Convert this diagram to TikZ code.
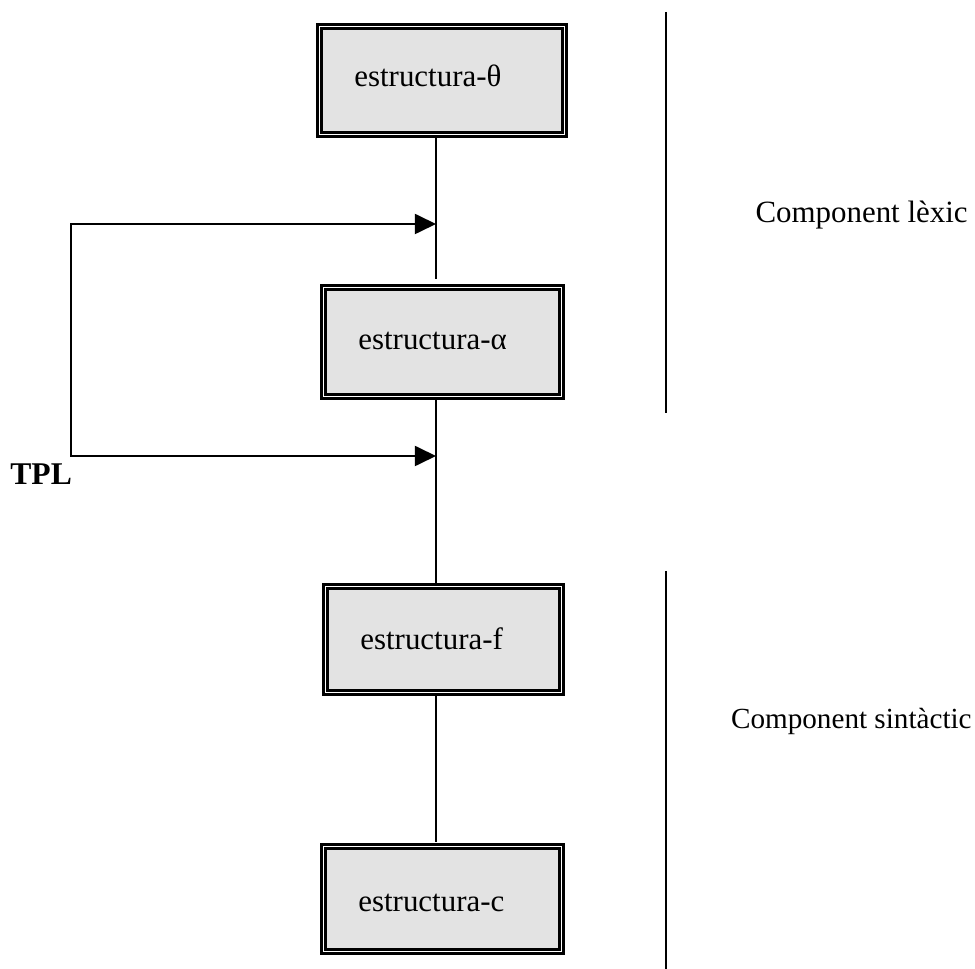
\documentclass[tikz,border=0pt]{standalone}
\usepackage{fontspec}
\setmainfont{Liberation Serif}
\usetikzlibrary{arrows.meta}
\definecolor{boxgray}{RGB}{227,227,227}
\begin{document}
\begin{tikzpicture}[x=0.02cm, y=-0.02cm,
  stage/.style={rectangle, draw=black, fill=boxgray, double=white,
    line width=1.55pt, double distance=1.1pt, inner sep=0pt},
  lbl/.style={inner sep=0pt, font=\fontsize{17.6}{20}\selectfont},
  tpllbl/.style={inner sep=0pt, font=\fontsize{18}{21}\selectfont\bfseries},
  conn/.style={draw=black, line width=1.1pt},
]
\useasboundingbox (0,0) rectangle (975,969);

% the four stages of the derivation
\node[stage, minimum width=4.90cm, minimum height=2.16cm] (theta) at (442,80.5) {};
\node[stage, minimum width=4.76cm, minimum height=2.18cm] (alpha) at (442.5,342) {};
\node[stage, minimum width=4.72cm, minimum height=2.12cm] (fstr) at (443.5,639.5) {};
\node[stage, minimum width=4.76cm, minimum height=2.10cm] (cstr) at (442.5,899) {};

\node[lbl, anchor=base west] (ltheta) at (354,87) {estructura-θ};
\node[lbl, anchor=base west] (lalpha) at (358,350) {estructura-α};
\node[lbl, anchor=base west] (lf) at (360,650) {estructura-f};
\node[lbl, anchor=base west] (lc) at (358,912) {estructura-c};

% vertical spine joining the stages
\coordinate (spine) at (436,0);
\draw[conn] (theta.south -| spine) -- ([yshift=4pt]alpha.north -| spine);
\draw[conn] (alpha.south -| spine) -- (fstr.north -| spine);
\draw[conn] (fstr.south -| spine) -- ([yshift=2pt]cstr.north -| spine);

% TPL feedback loop
\coordinate (tipA) at (436,224);
\coordinate (tipB) at (436,456);
\coordinate (loopA) at (71,224);
\coordinate (loopB) at (71,456);
\draw[conn, {Triangle[length=12pt, width=11.4pt]}-{Triangle[length=12pt, width=11.4pt]}]
  (tipA) -- (loopA) -- (loopB) -- (tipB);
\node[tpllbl, anchor=base west] (tpl) at (10,485) {TPL};

% component brackets
\coordinate (barAtop) at (666,12);
\coordinate (barAbot) at (666,413);
\coordinate (barBtop) at (666,571);
\coordinate (barBbot) at (666,969);
\draw[conn] (barAtop) -- (barAbot);
\draw[conn] (barBtop) -- (barBbot);

\node[lbl, anchor=base east] (lex) at (968,223) {Component lèxic};
\node[lbl, anchor=base east, font=\fontsize{16.6}{19}\selectfont] (sint) at (972,729) {Component sintàctic};
\end{tikzpicture}
\end{document}
